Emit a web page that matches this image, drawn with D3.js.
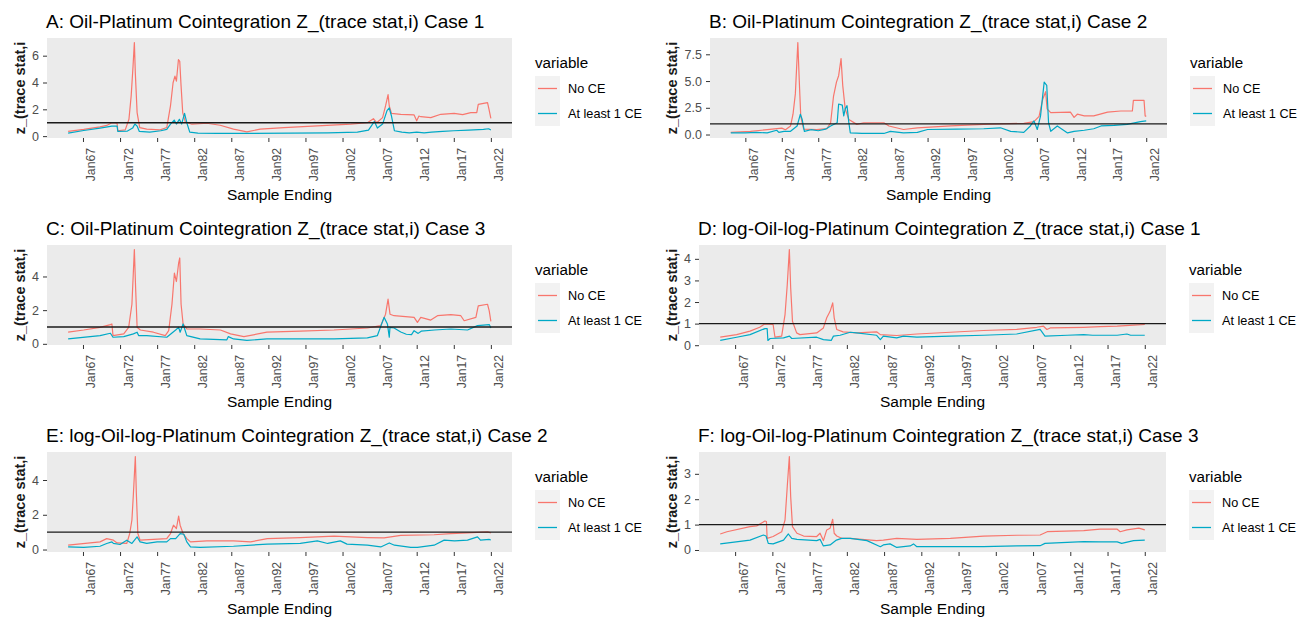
<!DOCTYPE html>
<html>
<head>
<meta charset="utf-8">
<script src="https://cdn.jsdelivr.net/npm/d3@7"></script>
<style>
  body { margin: 0; background: #fff; }
  svg text { font-family: "Liberation Sans", Arial, sans-serif; }
</style>
</head>
<body>
<svg id="chart" width="1309" height="618"></svg>
<script>
// tick labels on the x axis (decimal year -> label)
const tickYears = [1967, 1972, 1977, 1982, 1987, 1992, 1997, 2002, 2007, 2012, 2017, 2022]
const tickLabels = ["Jan67", "Jan72", "Jan77", "Jan82", "Jan87", "Jan92", "Jan97", "Jan02", "Jan07", "Jan12", "Jan17", "Jan22"]
const seriesNames = ["No CE", "At least 1 CE"]

// [sample ending (decimal year), z value]
const aNoCE = [[1965.0,0.35],[1967.1,0.5],[1969.3,0.69],[1970.2,0.8],[1970.9,1.0],[1971.6,0.96],[1971.7,0.4],[1972.7,0.47],[1973.2,1.26],[1973.5,3.0],[1973.75,5.2],[1973.93,6.98],[1974.06,4.7],[1974.3,1.75],[1974.65,0.64],[1975.6,0.52],[1977.4,0.47],[1978.3,0.64],[1978.8,2.25],[1979.15,3.98],[1979.4,4.47],[1979.6,4.1],[1979.87,5.7],[1980.05,5.58],[1980.23,3.73],[1980.45,1.75],[1980.8,1.06],[1981.7,0.89],[1983.7,0.96],[1985.5,0.81],[1987.3,0.52],[1989.1,0.32],[1990.9,0.52],[1994.1,0.64],[1998.6,0.77],[2003.1,0.89],[2005.35,1.0],[2006.16,1.3],[2006.6,1.0],[2007.4,1.38],[2007.8,2.25],[2008.14,3.1],[2008.3,2.25],[2008.6,1.7],[2009.85,1.63],[2011.65,1.58],[2012.0,1.14],[2012.3,1.5],[2012.55,1.45],[2013.9,1.38],[2015.25,1.63],[2017.05,1.7],[2018.2,1.6],[2019.3,1.75],[2020.1,1.75],[2020.3,2.37],[2021.55,2.5],[2021.75,2.0],[2022.0,1.33]]
const aCE = [[1965.0,0.22],[1967.1,0.42],[1969.3,0.6],[1970.9,0.75],[1971.6,0.75],[1971.7,0.35],[1973.0,0.38],[1973.7,0.6],[1974.0,0.9],[1974.3,0.75],[1974.6,0.35],[1976.0,0.3],[1977.5,0.4],[1978.3,0.5],[1978.8,0.9],[1979.3,1.2],[1979.6,0.9],[1980.0,1.25],[1980.3,0.9],[1980.7,1.7],[1981.0,1.0],[1981.4,0.3],[1982.5,0.22],[1985.0,0.2],[1990.0,0.2],[1995.0,0.22],[2000.0,0.25],[2004.0,0.3],[2005.5,0.45],[2006.3,1.1],[2006.7,0.6],[2007.4,0.9],[2008.0,1.9],[2008.3,2.1],[2008.6,1.5],[2009.0,0.4],[2010.0,0.3],[2011.0,0.25],[2012.0,0.3],[2013.0,0.25],[2014.0,0.3],[2015.5,0.35],[2017.0,0.4],[2019.0,0.45],[2021.0,0.5],[2021.7,0.55],[2022.0,0.45]]

const bNoCE = [[1965.0,0.2],[1967.7,0.3],[1970.0,0.45],[1972.0,0.6],[1972.5,0.45],[1973.2,0.8],[1973.54,1.9],[1973.86,3.8],[1974.2,8.6],[1974.4,5.0],[1974.6,1.7],[1975.0,0.5],[1976.8,0.45],[1978.2,0.55],[1978.7,1.1],[1979.1,3.6],[1979.5,4.9],[1979.8,5.5],[1980.13,7.1],[1980.36,4.6],[1980.7,2.4],[1981.2,1.4],[1982.3,0.95],[1983.25,1.1],[1986.0,1.1],[1986.7,0.8],[1988.7,0.47],[1990.6,0.63],[1995.15,0.8],[1999.7,0.95],[2005.2,1.05],[2006.6,1.2],[2007.3,1.7],[2007.8,3.3],[2008.2,4.0],[2008.4,2.4],[2008.9,2.05],[2011.6,2.1],[2012.1,1.6],[2012.55,1.9],[2013.5,1.75],[2014.8,1.74],[2016.7,2.1],[2018.5,2.2],[2020.1,2.2],[2020.24,3.2],[2021.7,3.2],[2021.85,1.74],[2022.0,1.7]]
const bCE = [[1965.0,0.15],[1967.0,0.15],[1968.5,0.2],[1970.0,0.15],[1971.3,0.4],[1971.6,0.2],[1972.3,0.3],[1973.2,0.3],[1974.1,0.8],[1974.55,1.9],[1974.8,1.4],[1975.1,0.3],[1976.0,0.45],[1977.0,0.35],[1978.0,0.5],[1978.7,0.8],[1979.6,1.1],[1979.8,2.85],[1980.3,2.75],[1980.5,1.74],[1980.7,2.4],[1980.95,2.7],[1981.2,1.1],[1981.4,0.15],[1983.0,0.1],[1986.0,0.1],[1986.9,0.3],[1988.7,0.15],[1990.6,0.2],[1992.0,0.47],[1996.0,0.5],[1999.7,0.54],[2002.0,0.63],[2003.4,0.3],[2005.2,0.2],[2006.1,0.8],[2006.6,1.27],[2007.05,0.47],[2007.5,1.74],[2008.0,4.9],[2008.35,4.6],[2008.6,1.1],[2008.9,0.3],[2009.8,0.8],[2011.2,0.15],[2012.1,0.3],[2013.5,0.4],[2014.8,0.54],[2015.8,0.8],[2017.6,0.85],[2019.4,0.95],[2021.2,1.2],[2022.0,1.27]]

const cNoCE = [[1965.0,0.69],[1967.1,0.82],[1969.3,0.98],[1970.7,1.14],[1970.9,1.18],[1971.05,0.49],[1972.5,0.59],[1973.16,0.98],[1973.6,2.35],[1973.93,5.6],[1974.1,3.3],[1974.3,0.98],[1974.74,0.82],[1976.5,0.69],[1978.1,0.49],[1978.56,0.78],[1979.0,2.35],[1979.33,4.2],[1979.6,3.7],[1979.9,4.8],[1980.05,5.1],[1980.23,2.35],[1980.5,1.18],[1981.04,0.88],[1982.8,0.88],[1985.54,0.82],[1986.9,0.59],[1988.7,0.43],[1991.8,0.69],[1996.3,0.75],[2000.85,0.82],[2005.35,0.94],[2007.15,1.08],[2007.8,1.76],[2008.14,2.65],[2008.4,1.76],[2008.95,1.67],[2011.65,1.57],[2012.1,1.27],[2012.55,1.57],[2013.9,1.41],[2014.8,1.67],[2016.6,1.73],[2017.95,1.67],[2018.4,1.37],[2019.98,1.57],[2020.3,2.25],[2021.55,2.35],[2021.78,1.96],[2022.0,1.33]]
const cCE = [[1965.0,0.29],[1969.3,0.49],[1970.7,0.63],[1971.05,0.39],[1972.5,0.43],[1973.8,0.59],[1974.3,0.69],[1974.5,0.49],[1975.6,0.49],[1978.3,0.39],[1979.5,0.82],[1979.9,0.98],[1980.1,0.69],[1980.5,1.18],[1981.0,0.49],[1982.8,0.29],[1986.4,0.24],[1986.6,0.43],[1987.3,0.29],[1989.1,0.2],[1991.8,0.29],[2000.85,0.29],[2005.35,0.35],[2006.7,0.49],[2007.6,1.57],[2008.05,1.18],[2008.3,0.39],[2008.4,0.98],[2008.95,0.94],[2009.85,0.7],[2010.6,0.57],[2011.3,0.55],[2011.65,0.78],[2012.2,0.62],[2012.6,0.75],[2014.4,0.82],[2015.5,0.85],[2016.6,0.88],[2018.85,0.82],[2020.2,1.08],[2021.8,1.14],[2022.0,0.94]]

const dNoCE = [[1965.0,0.37],[1967.2,0.49],[1969.0,0.65],[1970.3,0.83],[1971.0,0.99],[1972.1,0.96],[1972.35,0.37],[1973.25,0.42],[1973.7,1.42],[1974.0,2.8],[1974.28,4.43],[1974.46,2.65],[1974.7,1.11],[1975.26,0.57],[1975.7,0.49],[1977.95,0.57],[1978.85,0.8],[1979.3,1.27],[1979.75,1.57],[1980.1,1.96],[1980.3,1.27],[1980.64,0.73],[1981.5,0.62],[1983.3,0.57],[1986.0,0.62],[1986.5,0.49],[1988.7,0.45],[1991.4,0.52],[1995.9,0.6],[2000.35,0.68],[2004.8,0.73],[2007.5,0.83],[2008.4,0.88],[2008.86,0.73],[2009.3,0.8],[2013.8,0.83],[2016.0,0.86],[2018.3,0.88],[2020.5,0.93],[2022.0,0.96]]
const dCE = [[1965.0,0.22],[1967.2,0.37],[1969.0,0.49],[1971.0,0.77],[1971.3,0.77],[1971.4,0.22],[1971.7,0.31],[1973.5,0.34],[1974.3,0.42],[1974.6,0.31],[1977.95,0.37],[1978.85,0.26],[1979.9,0.22],[1980.2,0.42],[1981.1,0.46],[1982.45,0.6],[1983.3,0.57],[1986.0,0.46],[1986.5,0.26],[1986.9,0.42],[1988.7,0.34],[1989.6,0.42],[1991.4,0.37],[1995.9,0.42],[2000.35,0.46],[2004.8,0.52],[2007.95,0.73],[2008.6,0.42],[2011.6,0.46],[2013.8,0.49],[2015.0,0.46],[2018.3,0.46],[2019.6,0.52],[2020.1,0.46],[2022.0,0.46]]

const eNoCE = [[1965.0,0.25],[1969.3,0.44],[1970.2,0.63],[1971.1,0.54],[1971.6,0.38],[1972.9,0.35],[1973.3,0.92],[1973.6,1.7],[1973.8,3.2],[1974.06,5.35],[1974.2,3.2],[1974.4,0.92],[1974.7,0.54],[1976.5,0.58],[1978.3,0.63],[1978.8,0.92],[1979.2,1.4],[1979.6,1.21],[1979.9,1.92],[1980.1,1.4],[1980.5,0.92],[1981.0,0.63],[1981.5,0.44],[1983.7,0.5],[1987.3,0.5],[1989.6,0.44],[1991.85,0.63],[1996.3,0.69],[2000.85,0.77],[2005.35,0.69],[2007.6,0.67],[2009.85,0.81],[2014.35,0.85],[2016.6,0.92],[2018.85,0.96],[2021.55,1.02],[2022.0,0.96]]
const eCE = [[1965.0,0.15],[1967.1,0.12],[1969.3,0.19],[1970.2,0.35],[1970.9,0.44],[1971.1,0.35],[1972.0,0.29],[1972.9,0.54],[1973.6,0.35],[1974.3,0.73],[1974.7,0.44],[1975.6,0.35],[1977.0,0.44],[1978.3,0.44],[1978.8,0.63],[1979.5,0.63],[1980.1,0.92],[1980.6,0.88],[1981.0,0.44],[1981.5,0.15],[1982.8,0.12],[1987.3,0.19],[1991.85,0.31],[1996.3,0.35],[1998.6,0.5],[2000.0,0.35],[2001.7,0.5],[2002.6,0.31],[2005.35,0.25],[2007.15,0.15],[2008.3,0.38],[2009.0,0.25],[2011.2,0.12],[2012.1,0.12],[2014.35,0.25],[2015.7,0.54],[2017.1,0.5],[2018.85,0.54],[2020.2,0.73],[2020.6,0.54],[2021.8,0.58],[2022.0,0.55]]

const fNoCE = [[1965.0,0.63],[1965.9,0.72],[1969.0,0.92],[1969.9,0.95],[1971.0,1.14],[1971.2,1.12],[1971.3,0.46],[1972.1,0.53],[1973.25,0.72],[1973.7,1.18],[1974.0,2.5],[1974.28,3.68],[1974.46,2.1],[1974.7,0.92],[1975.3,0.66],[1976.2,0.55],[1977.95,0.53],[1978.4,0.66],[1978.85,0.37],[1979.3,0.79],[1979.75,0.86],[1980.1,1.21],[1980.3,0.66],[1980.64,0.55],[1981.3,0.46],[1982.45,0.46],[1986.0,0.37],[1986.9,0.39],[1988.7,0.46],[1991.4,0.42],[1995.9,0.46],[2000.35,0.55],[2004.8,0.58],[2007.95,0.59],[2008.9,0.72],[2013.8,0.76],[2016.0,0.82],[2018.3,0.82],[2018.7,0.72],[2019.6,0.79],[2021.2,0.86],[2022.0,0.79]]
const fCE = [[1965.0,0.24],[1969.0,0.39],[1970.8,0.59],[1971.15,0.55],[1971.45,0.26],[1972.1,0.24],[1973.5,0.39],[1974.15,0.63],[1974.6,0.46],[1975.3,0.42],[1977.95,0.37],[1978.4,0.42],[1978.85,0.16],[1979.75,0.2],[1980.6,0.39],[1981.3,0.46],[1982.45,0.46],[1984.7,0.37],[1986.5,0.13],[1986.9,0.2],[1987.8,0.24],[1988.7,0.1],[1990.5,0.16],[1990.95,0.24],[1991.4,0.13],[1995.9,0.13],[2000.35,0.13],[2004.8,0.16],[2007.95,0.17],[2008.6,0.26],[2013.8,0.33],[2016.0,0.32],[2018.3,0.32],[2018.9,0.26],[2020.5,0.37],[2022.0,0.39]]

const titles = [
  "A: Oil-Platinum Cointegration Z_(trace stat,i) Case 1",
  "B: Oil-Platinum Cointegration Z_(trace stat,i) Case 2",
  "C: Oil-Platinum Cointegration Z_(trace stat,i) Case 3",
  "D: log-Oil-log-Platinum Cointegration Z_(trace stat,i) Case 1",
  "E: log-Oil-log-Platinum Cointegration Z_(trace stat,i) Case 2",
  "F: log-Oil-log-Platinum Cointegration Z_(trace stat,i) Case 3"
]
const yTickValues = [[0, 2, 4, 6], [0, 2.5, 5, 7.5], [0, 2, 4], [0, 1, 2, 3, 4], [0, 2, 4], [0, 1, 2, 3]]
const threshold = 1

// panel boxes (pixels)
var panels = [
  { series: [aNoCE, aCE], fmt: "d",   left: 47,  right: 512,  top: 38,  bottom: 138, ytx: 25 },
  { series: [bNoCE, bCE], fmt: ".1f", left: 710, right: 1167, top: 38,  bottom: 138, ytx: 677 },
  { series: [cNoCE, cCE], fmt: "d",   left: 47,  right: 512,  top: 245, bottom: 345, ytx: 25 },
  { series: [dNoCE, dCE], fmt: "d",   left: 699, right: 1166, top: 245, bottom: 345, ytx: 677 },
  { series: [eNoCE, eCE], fmt: "d",   left: 47,  right: 512,  top: 452, bottom: 552, ytx: 25 },
  { series: [fNoCE, fCE], fmt: "d",   left: 699, right: 1166, top: 452, bottom: 552, ytx: 677 }
]

var color = d3.scaleOrdinal().domain(seriesNames).range(["#F8766D", "#00A9C6"])
var svg = d3.select("#chart")

function expand(ext) {
  var pad = (ext[1] - ext[0]) * 0.05
  return [ext[0] - pad, ext[1] + pad]
}

panels.forEach(function (p, i) {
  var all = p.series[0].concat(p.series[1])
  var x = d3.scaleLinear()
    .domain(expand(d3.extent(all, d => d[0])))
    .range([p.left, p.right])
  var y = d3.scaleLinear()
    .domain(expand(d3.extent(all.concat([[0, threshold]]), d => d[1])))
    .range([p.bottom, p.top])

  var g = svg.append("g")

  g.append("rect")
    .attr("x", p.left).attr("y", p.top)
    .attr("width", p.right - p.left).attr("height", p.bottom - p.top)
    .attr("fill", "#EBEBEB")

  var line = d3.line()
    .x(d => x(d[0]))
    .y(d => y(d[1]))

  p.series.forEach(function (s, k) {
    g.append("path")
      .datum(s)
      .attr("fill", "none")
      .attr("stroke", color(seriesNames[k]))
      .attr("stroke-width", 1.2)
      .attr("stroke-linejoin", "round")
      .attr("d", line)
  })

  g.append("line")
    .attr("x1", p.left).attr("x2", p.right)
    .attr("y1", y(threshold)).attr("y2", y(threshold))
    .attr("stroke", "#1a1a1a").attr("stroke-width", 1.4)

  // y axis
  var yAxis = g.append("g")
    .attr("transform", `translate(${p.left},0)`)
    .call(d3.axisLeft(y).tickValues(yTickValues[i]).tickFormat(d3.format(p.fmt)).tickSize(4).tickPadding(4))
  yAxis.select(".domain").remove()
  yAxis.selectAll(".tick line").attr("stroke", "#333")
  yAxis.selectAll(".tick text")
    .attr("fill", "#4D4D4D").style("font-size", "12.5px")
    .style("font-family", "'Liberation Sans', Arial, sans-serif")

  // x axis
  var xAxis = g.append("g")
    .attr("transform", `translate(0,${p.bottom})`)
    .call(d3.axisBottom(x).tickValues(tickYears).tickSize(4).tickFormat((d, j) => tickLabels[j]))
  xAxis.select(".domain").remove()
  xAxis.selectAll(".tick line").attr("stroke", "#333")
  xAxis.selectAll(".tick text")
    .attr("fill", "#4D4D4D").style("font-size", "12.2px")
    .style("font-family", "'Liberation Sans', Arial, sans-serif")
    .attr("text-anchor", "end")
    .attr("dy", null)
    .attr("y", null)
    .attr("transform", "translate(12,10) rotate(-90)")

  // titles
  g.append("text")
    .attr("x", p.left - 1).attr("y", p.top - 10)
    .style("font-size", "19px").attr("fill", "#000")
    .text(titles[i])

  g.append("text")
    .attr("x", (p.left + p.right) / 2).attr("y", p.bottom + 62)
    .attr("text-anchor", "middle")
    .style("font-size", "15.5px").attr("fill", "#000")
    .text("Sample Ending")

  g.append("text")
    .attr("transform", `translate(${p.ytx},${(p.top + p.bottom) / 2}) rotate(-90)`)
    .attr("text-anchor", "middle")
    .style("font-size", "14.5px").style("font-weight", "bold").attr("fill", "#1a1a1a")
    .text("z_(trace stat,i")

  // legend
  var lg = g.append("g").attr("transform", `translate(${p.right + 23},${p.top})`)
  lg.append("text")
    .attr("x", 0).attr("y", 30)
    .style("font-size", "15.2px").attr("fill", "#000")
    .text("variable")
  seriesNames.forEach(function (name, k) {
    var ky = 38 + k * 25
    lg.append("rect")
      .attr("x", 0).attr("y", ky).attr("width", 25).attr("height", 25)
      .attr("fill", "#F2F2F2")
    lg.append("line")
      .attr("x1", 3).attr("x2", 22)
      .attr("y1", ky + 12.5).attr("y2", ky + 12.5)
      .attr("stroke", color(name)).attr("stroke-width", 1.3)
    lg.append("text")
      .attr("x", 33).attr("y", ky + 17)
      .style("font-size", "12.7px").attr("fill", "#000")
      .text(name)
  })
})
</script>
</body>
</html>
